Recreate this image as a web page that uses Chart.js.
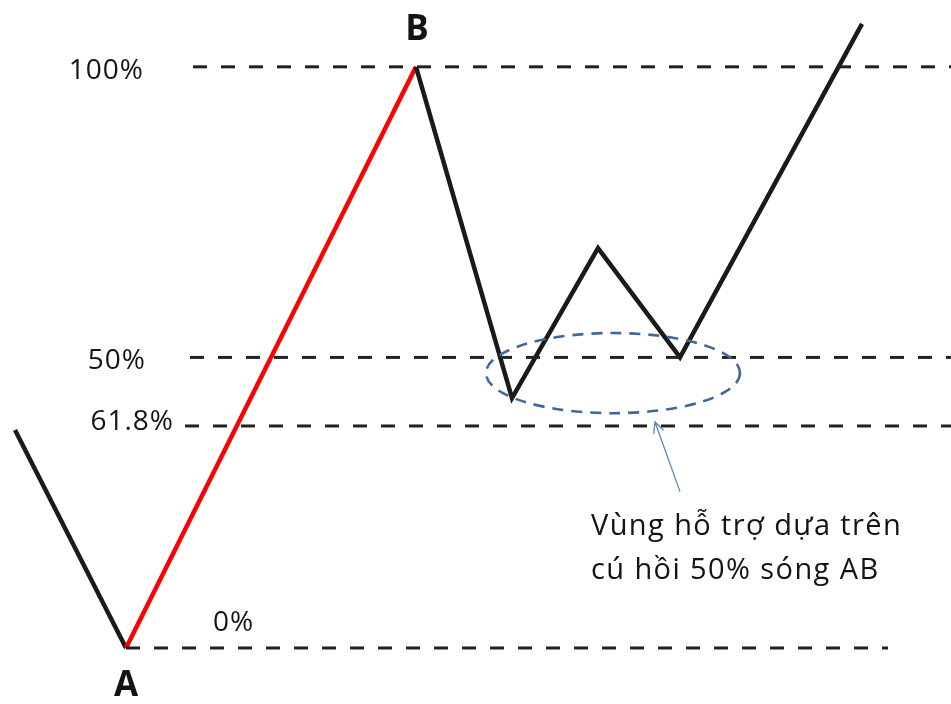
<!DOCTYPE html>
<html>
<head>
<meta charset="utf-8">
<script src="https://cdn.jsdelivr.net/npm/chart.js@4/dist/chart.umd.min.js"></script>
<style>
  html, body { margin: 0; padding: 0; background: #fff; }
  #wrap { width: 951px; height: 704px; }
</style>
</head>
<body>
<div id="wrap"><canvas id="wave" width="951" height="704"></canvas></div>
<script>
// Price path, as % of the AB wave (A = 0, B = 100), x = time
const waveX = [1.5, 12.6, 41.6, 51.2, 59.8, 68.0, 86.2];
const waveY = [37.5, 0, 100, 43.0, 68.8, 50.0, 107.4];

// Fibonacci levels (price %) and the labels written beside them
const levelValues = [100, 50, 38.2, 0];
const levelLabels = ['100%', '50%', '61.8%', '0%'];
const levelStartX = [19.3, 19.0, 18.5, 12.6];
const levelEndX = [95.1, 95.1, 95.1, 88.8];

const pointLabels = ['A', 'B'];
const noteLines = ['Vùng hỗ trợ dựa trên', 'cú hồi 50% sóng AB'];

const wavePoints = waveX.map((x, i) => ({ x: x, y: waveY[i] }));

const levelSets = levelValues.map((v, i) => ({
    data: [{ x: levelStartX[i], y: v }, { x: levelEndX[i], y: v }],
    borderColor: '#222222',
    borderWidth: 3,
    borderDash: [14, 14],
    pointRadius: 0,
    fill: false
}));

// labels, support ellipse and arrow
const notes = {
    id: 'notes',
    afterDatasetsDraw(chart) {
        const c = chart.ctx, xs = chart.scales.x, ys = chart.scales.y;
        const px = v => xs.getPixelForValue(v), py = v => ys.getPixelForValue(v);
        c.save();
        c.fillStyle = '#141414';
        c.textBaseline = 'middle';
        c.font = '500 28px "Open Sans"';
        c.letterSpacing = '1px';

        // level labels
        c.textAlign = 'right';
        c.fillText(levelLabels[0], px(14.4), py(99.3));
        c.fillText(levelLabels[1], px(14.6), py(49.4));
        c.fillText(levelLabels[2], px(17.4), py(38.9));
        c.textAlign = 'left';
        c.fillText(levelLabels[3], px(21.3), py(4.3));

        // A and B
        c.letterSpacing = '0px';
        c.font = 'bold 35px "Open Sans"';
        c.textAlign = 'center';
        c.fillText(pointLabels[0], px(waveX[1]), py(-6.5));
        c.fillText(pointLabels[1], px(waveX[2] + 0.1), py(106.3));

        // dashed ellipse round the support zone
        c.strokeStyle = '#41689a';
        c.lineWidth = 2.6;
        c.setLineDash([11, 8]);
        c.beginPath();
        c.ellipse(px(61.3), py(47.3), px(61.3 + 12.7) - px(61.3), py(47.3) - py(47.3 + 6.9), 0, 0, Math.PI * 2);
        c.stroke();

        // arrow
        c.setLineDash([]);
        c.lineWidth = 1.3;
        c.strokeStyle = '#5b86c0';
        const x0 = px(68.0), y0 = py(26.9), x1 = px(65.5), y1 = py(38.9);
        c.beginPath();
        c.moveTo(x0, y0);
        c.lineTo(x1, y1);
        const a = Math.atan2(y1 - y0, x1 - x0);
        c.moveTo(x1 - 12 * Math.cos(a - 0.45), y1 - 12 * Math.sin(a - 0.45));
        c.lineTo(x1, y1);
        c.lineTo(x1 - 12 * Math.cos(a + 0.45), y1 - 12 * Math.sin(a + 0.45));
        c.stroke();

        // note text
        c.fillStyle = '#141414';
        c.font = '500 29px "Open Sans"';
        c.letterSpacing = '1.4px';
        c.textAlign = 'left';
        c.fillText(noteLines[0], px(59.1), py(20.9));
        c.fillText(noteLines[1], px(59.1), py(13.3));
        c.restore();
    }
};

new Chart(document.getElementById('wave'), {
    type: 'line',
    data: {
        datasets: levelSets.concat([{
            data: wavePoints,
            borderWidth: 4.5,
            borderColor: '#1a1a1a',
            segment: {
                borderColor: ctx => ctx.p0DataIndex === 1 ? '#ff0000' : '#1a1a1a'
            },
            borderJoinStyle: 'miter',
            pointRadius: 0,
            tension: 0,
            fill: false
        }])
    },
    options: {
        responsive: false,
        animation: false,
        events: [],
        layout: { padding: 0 },
        plugins: { legend: { display: false }, tooltip: { enabled: false } },
        scales: {
            x: { type: 'linear', min: 0, max: 95.1, display: false },
            y: { min: -9.64, max: 111.5, display: false }
        }
    },
    plugins: [notes]
});
</script>
</body>
</html>
